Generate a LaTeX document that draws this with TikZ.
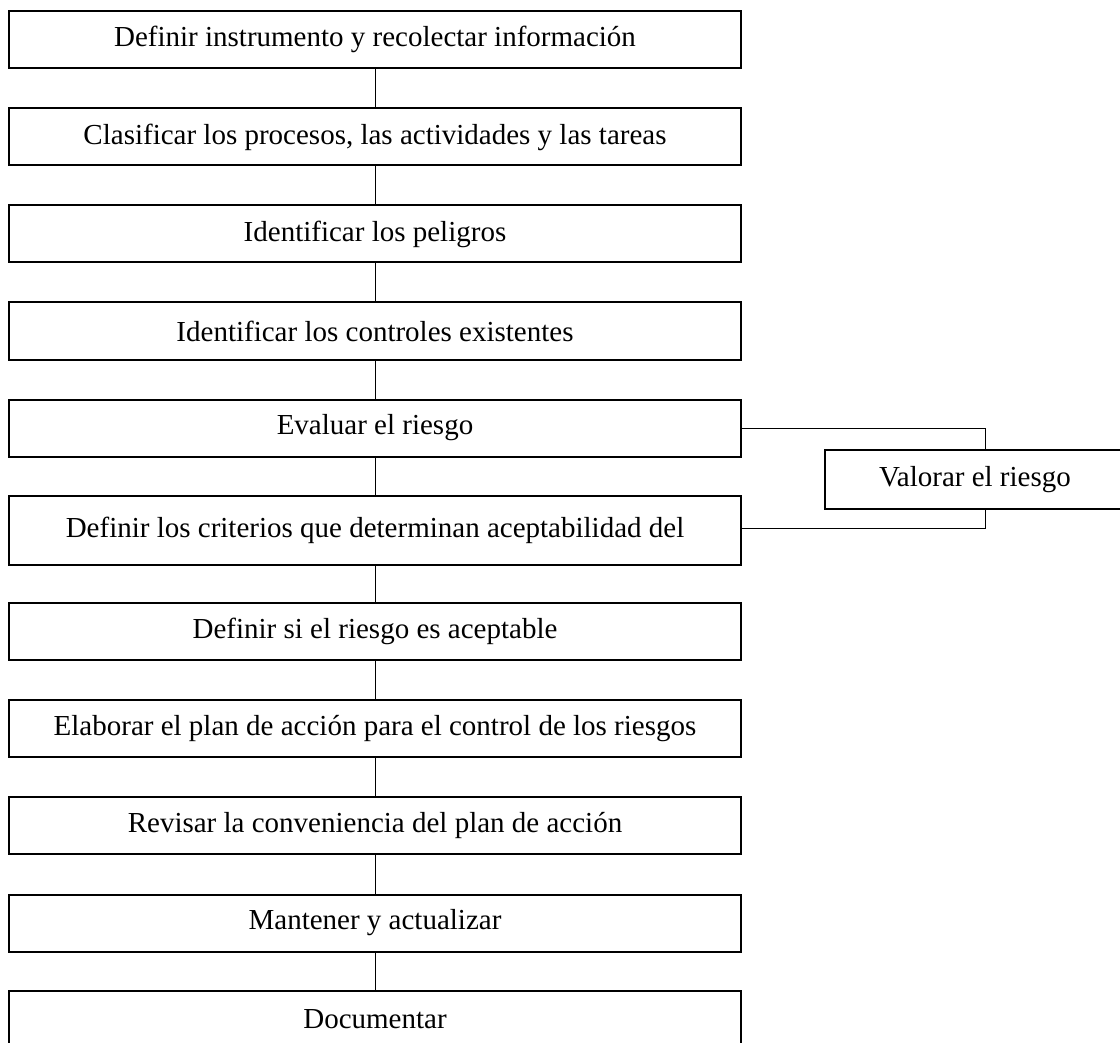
\documentclass[tikz,border=0pt]{standalone}
\usepackage{fontspec}
\setmainfont{Liberation Serif}
\begin{document}
\begin{tikzpicture}[x=1pt,y=-1pt,
  box/.style={draw, line width=2pt, minimum width=732pt, minimum height=57pt, inner sep=0pt,
    font=\fontsize{29}{34}\selectfont},
  conn/.style={draw, line width=1pt}]
\path[use as bounding box] (0,0) rectangle (1120,1043);
\clip (0,0) rectangle (1120,1043);
\node[box] (b1) at (375,39.5) {Definir instrumento y recolectar información};
\node[box] (b2) at (375,137) {Clasificar los procesos, las actividades y las tareas};
\node[box] (b3) at (375,234) {Identificar los peligros};
\node[box] (b4) at (375,331) {Identificar los controles existentes};
\node[box] (b5) at (375,428) {Evaluar el riesgo};
\node[box, minimum height=69pt] (b6) at (375,530.5) {Definir los criterios que determinan aceptabilidad del};
\node[box] (b7) at (375,631.5) {Definir si el riesgo es aceptable};
\node[box] (b8) at (375,728.5) {Elaborar el plan de acción para el control de los riesgos};
\node[box] (b9) at (375,825.5) {Revisar la conveniencia del plan de acción};
\node[box] (b10) at (375,923) {Mantener y actualizar};
\node[box] (b11) at (375,1019.5) {Documentar};
\node[box, minimum width=300pt, minimum height=59pt] (v) at (975,479.5) {Valorar el riesgo};
\coordinate (vt) at ([xshift=10pt]v.north);
\coordinate (vb) at ([xshift=10pt]v.south);
\foreach \a/\b in {b1/b2,b2/b3,b3/b4,b4/b5,b5/b6,b6/b7,b7/b8,b8/b9,b9/b10,b10/b11}
  \draw[conn] (\a.south) -- (\b.north);
\draw[conn] (b5.east) -| (vt);
\draw[conn] ([yshift=2.5pt]b6.east) -| (vb);
\end{tikzpicture}
\end{document}
